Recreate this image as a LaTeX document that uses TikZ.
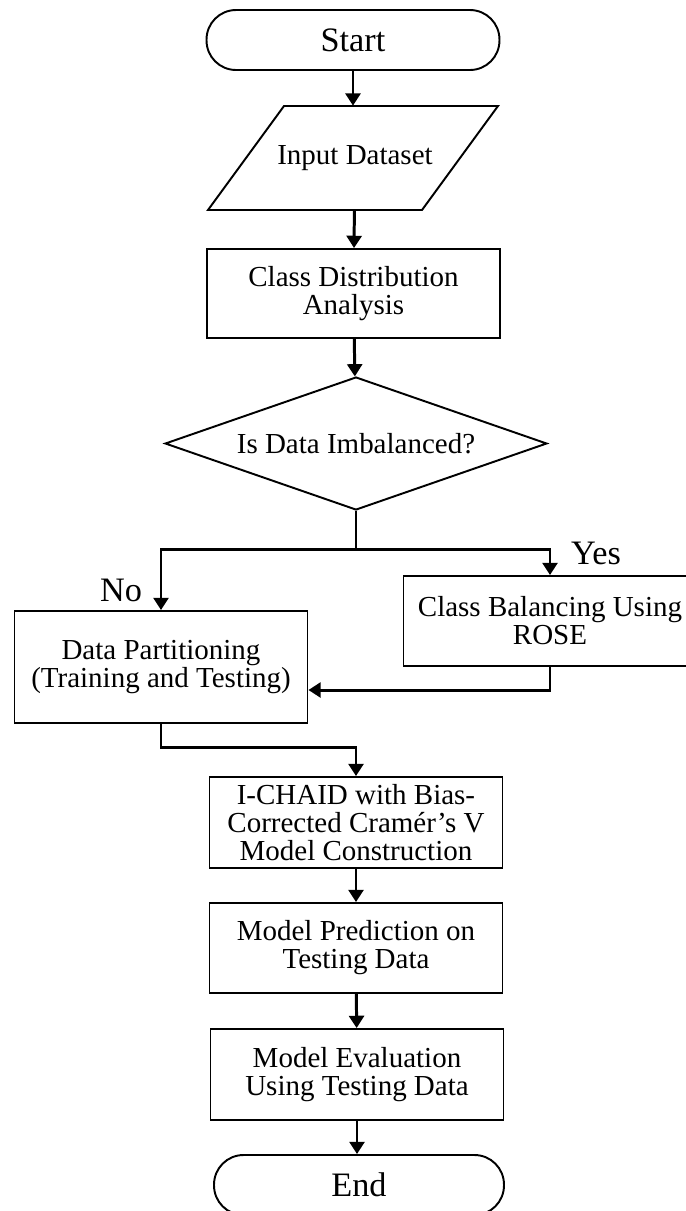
\documentclass[tikz,border=0pt]{standalone}
\usepackage{fontspec}
\setmainfont{Liberation Serif}
\usetikzlibrary{arrows.meta,shapes.geometric}
\tikzset{
	termnode/.style={draw, line width=1.1pt, rounded corners=0.59cm, minimum width=5.86cm, minimum height=1.2cm, inner sep=0pt, font=\fontsize{19.5}{19}\selectfont},
	boxnode/.style={draw, line width=1.1pt, align=center, minimum width=5.86cm, minimum height=1.8cm, inner sep=0pt, font=\fontsize{16.5}{16}\selectfont},
	ionode/.style={minimum width=5.8cm, minimum height=2.08cm, inner sep=0pt, font=\fontsize{16.5}{16}\selectfont},
	decnode/.style={draw, line width=1.1pt, diamond, aspect=2.87, minimum width=7.64cm, minimum height=2.66cm, inner sep=0pt, font=\fontsize{16.5}{16}\selectfont},
	flow/.style={line width=1.7pt, -{Triangle[width=8.5pt,length=7pt]}},
	plain/.style={line width=1.7pt},
	branch/.style={font=\fontsize{19.5}{19}\selectfont}
}

\begin{document}
\begin{tikzpicture}[x=0.02cm, y=-0.02cm]
			%%%%% START %%%%%
			
			\useasboundingbox (0, 0) rectangle (686, 1211);
			
			\node[termnode] (start) at (353, 40) {Start};
			\node[ionode] (input) at (355, 158) {Input Dataset};
			\draw[line width=1.1pt] (208, 210) -- (284, 106) -- (498, 106) -- (422, 210) -- cycle;
			\node[boxnode, minimum height=1.78cm] (dist) at (353.5, 293.5) {Class Distribution\\Analysis};
			\node[decnode] (check) at (356, 443.5) {Is Data Imbalanced?};
			
			\node[boxnode, minimum height=2.24cm] (partition) at (161, 667) {Data Partitioning\\(Training and Testing)};
			\node[boxnode] (balance) at (550, 621) {Class Balancing Using\\ROSE};
			
			\node[boxnode, minimum height=1.82cm] (chaid) at (356, 822.5) {I-CHAID with Bias-\\Corrected Cramér’s V\\Model Construction};
			\node[boxnode] (predict) at (356, 948) {Model Prediction on\\Testing Data};
			\node[boxnode, minimum height=1.82cm] (evaluate) at (357, 1074.5) {Model Evaluation\\Using Testing Data};
			\node[termnode, minimum width=5.8cm] (end) at (359, 1185) {End};
			
			\node[branch] (nolabel) at (121, 590) {No};
			\node[branch] (yeslabel) at (596, 553) {Yes};
			
			\coordinate (split) at (356, 549);
			\coordinate (back) at (550, 690);
			\coordinate (join) at (356, 747);
			
			\draw[flow] (start) -- (start |- input.north);
			\draw[flow] (input) -- (dist);
			\draw[flow] (dist) -- (check);
			
			\draw[plain] (check.south) -- (split);
			\draw[flow] (split) -| (partition.north);
			\draw[flow] (split) -| (balance.north);
			\draw[flow] (balance.south) -- (back) -- (back -| partition.east);
			
			\draw[flow] (partition.south) |- (join) -- (chaid.north);
			\draw[flow] (chaid) -- (predict);
			\draw[flow] (predict) -- (evaluate);
			\draw[flow] (evaluate.south) -- (evaluate.south |- end.north);
			
			%%%%% END %%%%%
\end{tikzpicture}
\end{document}
